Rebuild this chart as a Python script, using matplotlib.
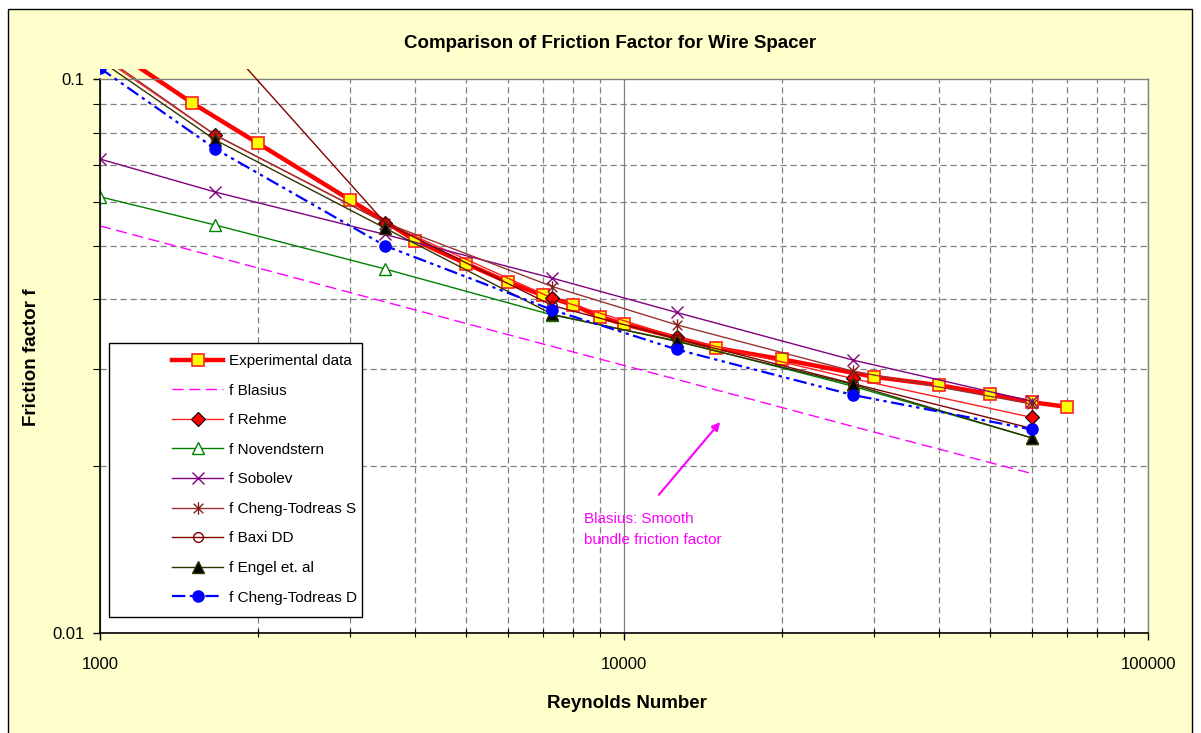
import matplotlib
matplotlib.use("Agg")
import matplotlib.pyplot as plt
from matplotlib.patches import Rectangle
from matplotlib.path import Path
from matplotlib.ticker import FixedLocator, FixedFormatter, NullFormatter

plt.rcParams['font.family'] = ['Liberation Sans', 'DejaVu Sans']

# measured friction factor
re_exp = [1000, 1500, 2000, 3000, 4000, 5000, 6000, 7000, 8000, 9000, 10000,
          15000, 20000, 30000, 40000, 50000, 60000, 70000]
f_exp = [0.117, 0.0905, 0.0766, 0.0605, 0.0511, 0.0464, 0.0430, 0.0407, 0.0391,
         0.0372, 0.0361, 0.0327, 0.0312, 0.0290, 0.0280, 0.0270, 0.0261, 0.0256]

# correlations evaluated at the same Reynolds numbers
re_corr = [1000, 1660, 3500, 7300, 12600, 27300, 60000]
f_blasius = [0.0543, 0.0478, 0.0396, 0.0329, 0.0287, 0.0236, 0.0194]
f_rehme = [0.110, 0.0792, 0.0550, 0.0402, 0.0342, 0.0288, 0.0245]
f_novendstern = [0.0613, 0.0545, 0.0454, 0.0375, 0.0337, 0.0279, 0.0225]
f_sobolev = [0.0717, 0.0625, 0.0524, 0.0437, 0.0379, 0.0311, 0.0262]
f_ct_s = [0.111, 0.0792, 0.0550, 0.0422, 0.0360, 0.0297, 0.0259]
f_baxi = [0.207, 0.121, 0.0550, 0.0390, 0.0340, 0.0282, 0.0234]
f_engel = [0.108, 0.0776, 0.0538, 0.0376, 0.0336, 0.0281, 0.0225]
f_ct_d = [0.1046, 0.0748, 0.0500, 0.0383, 0.0325, 0.0269, 0.0233]

x_ticks = [1000, 10000, 100000]
x_labels = ['1000', '10000', '100000']
y_ticks = [0.01, 0.1]
y_labels = ['0.01', '0.1']

W, H = 1201, 733
fig = plt.figure(figsize=(W / 100, H / 100), dpi=100)
fig.patches.append(Rectangle((8 / W, -0.01), (1192 - 8) / W, 1.01 - 9 / H,
                             transform=fig.transFigure, facecolor='#FFFFCC',
                             edgecolor='black', lw=1, zorder=-1))

ax = fig.add_axes([100 / W, 1 - 633 / H, 1048 / W, 554 / H])
ax.set_xscale('log')
ax.set_yscale('log')
ax.set_xlim(1000, 100000)
ax.set_ylim(0.01, 0.1)
ax.set_facecolor('white')

# asterisk marker: an x with a vertical bar
star = Path([(-1, -1), (1, 1), (-1, 1), (1, -1), (0, -1.3), (0, 1.3)],
            [Path.MOVETO, Path.LINETO, Path.MOVETO, Path.LINETO, Path.MOVETO, Path.LINETO])

series = [
    (re_exp, f_exp, 'Experimental data', dict(color='#FF0000', lw=3.2, marker='s', ms=9,
                                               mfc='#FFFF00', mec='#FF2020', mew=1.2)),
    (re_corr, f_blasius, 'f Blasius', dict(color='#FF00FF', lw=1, ls=(0, (8, 4)))),
    (re_corr, f_rehme, 'f Rehme', dict(color='#FF2020', lw=1, marker='D', ms=7,
                                       mfc='#FF0000', mec='black', mew=0.8)),
    (re_corr, f_novendstern, 'f Novendstern', dict(color='#008000', lw=1, marker='^', ms=9,
                                                   mfc='white', mec='#008000', mew=1)),
    (re_corr, f_sobolev, 'f Sobolev', dict(color='#800080', lw=1, marker='x', ms=9,
                                           mec='#800080', mew=1)),
    (re_corr, f_ct_s, 'f Cheng-Todreas S', dict(color='#993333', lw=1, marker=star, ms=9,
                                                mfc='none', mec='#802020', mew=1)),
    (re_corr, f_baxi, 'f Baxi DD', dict(color='#800000', lw=1, marker='o', ms=7,
                                        mfc='none', mec='#800000', mew=1)),
    (re_corr, f_engel, 'f Engel et. al', dict(color='#333300', lw=1, marker='^', ms=8,
                                              mfc='black', mec='#333300', mew=1)),
    (re_corr, f_ct_d, 'f Cheng-Todreas D', dict(color='#0000FF', lw=1.6,
                                                ls=(0, (6, 2, 1.5, 2, 1.5, 2)),
                                                marker='o', ms=8, mfc='#0000FF', mec='#0000FF')),
]

# let lines run a little past the top of the plot area
clip = Rectangle((0, -0.02), 1, 1 + 10 / 554 + 0.02, transform=ax.transAxes,
                 facecolor='none', edgecolor='none')
handles = []
for i, (xs, ys, name, style) in enumerate(series):
    ln, = ax.plot(xs, ys, label=name, zorder=2 + i * 0.1, **style)
    ln.set_clip_path(clip)
    handles.append(ln)

ax.xaxis.set_major_locator(FixedLocator(x_ticks))
ax.xaxis.set_major_formatter(FixedFormatter(x_labels))
ax.yaxis.set_major_locator(FixedLocator(y_ticks))
ax.yaxis.set_major_formatter(FixedFormatter(y_labels))
ax.xaxis.set_minor_formatter(NullFormatter())
ax.yaxis.set_minor_formatter(NullFormatter())

ax.grid(which='minor', color='#808080', lw=0.9, ls=(0, (5, 3)))
ax.xaxis.grid(which='major', color='#808080', lw=0.9, ls='-')
ax.set_axisbelow(True)

ax.tick_params(axis='both', which='major', direction='out', length=5, width=1,
               labelsize=12, colors='black')
ax.tick_params(axis='x', which='major', pad=12)
ax.tick_params(axis='y', which='major', pad=6)
ax.tick_params(axis='x', which='minor', direction='inout', length=6, width=0.8)
ax.tick_params(axis='y', which='minor', direction='out', length=5, width=0.8)

for side in ('left', 'bottom'):
    ax.spines[side].set_color('black')
    ax.spines[side].set_linewidth(1.2)
for side in ('top', 'right'):
    ax.spines[side].set_color('#808080')
    ax.spines[side].set_linewidth(1)

# legend box
ax.add_patch(Rectangle((9 / 1048, 16 / 554), 253 / 1048, 274 / 554, transform=ax.transAxes,
                       facecolor='white', edgecolor='black', lw=1, zorder=6))
leg = ax.legend(handles=handles, loc='upper left',
                bbox_to_anchor=(172 / W, 1 - 354 / H), bbox_transform=fig.transFigure,
                frameon=False, fontsize=11, handlelength=3.35, handletextpad=0.35,
                labelspacing=1.02, borderpad=0, borderaxespad=0)
leg.set_zorder(7)

# annotation for the Blasius curve
ax.annotate('', xy=(15380, 0.02424), xytext=(11560, 0.0176),
            arrowprops=dict(arrowstyle='-|>', color='#FF00FF', lw=1.5, mutation_scale=12),
            zorder=8)
ax.text(8390, 0.01655, 'Blasius: Smooth\nbundle friction factor', color='#FF00FF',
        fontsize=11, va='top', ha='left', linespacing=1.65, zorder=8)

fig.text(610 / W, 1 - 43 / H, 'Comparison of Friction Factor for Wire Spacer',
         ha='center', va='center', fontsize=13.5, fontweight='bold')
fig.text(627 / W, 1 - 703 / H, 'Reynolds Number', ha='center', va='center',
         fontsize=13.5, fontweight='bold')
fig.text(32 / W, 1 - 357 / H, 'Friction factor f', ha='center', va='center',
         rotation=90, fontsize=13.5, fontweight='bold')

fig.savefig('out.png', dpi=100)
